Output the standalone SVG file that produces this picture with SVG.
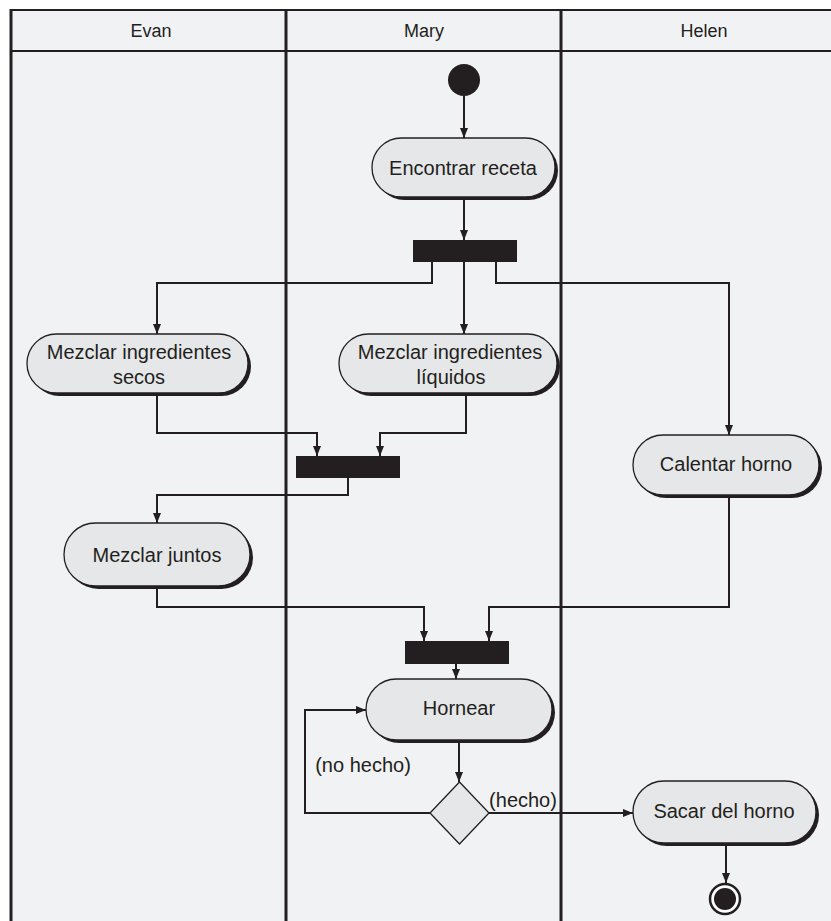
<svg xmlns="http://www.w3.org/2000/svg" width="831" height="921" viewBox="0 0 831 921">
<style>
.lane{stroke:#231f20;stroke-width:3;fill:none}
.hl{stroke:#231f20;stroke-width:2;fill:none}
.act{fill:#e6e7e9;stroke:#231f20;stroke-width:1.3}
.sh{fill:#231f20}
.bar{fill:#231f20}
.t{font-family:"Liberation Sans",Arial,sans-serif;font-size:20px;fill:#231f20;text-anchor:middle}
.h{font-family:"Liberation Sans",Arial,sans-serif;font-size:18px;fill:#231f20;text-anchor:middle}
.c{stroke:#231f20;stroke-width:2;fill:none;marker-end:url(#ah)}
.cn{stroke:#231f20;stroke-width:2;fill:none}
</style>
<defs>
<marker id="ah" viewBox="0 0 10 10" refX="10" refY="5" markerWidth="5" markerHeight="5" markerUnits="strokeWidth" orient="auto">
<path d="M0,1 L10,5 L0,9 z" fill="#231f20"/>
</marker>
</defs>
<rect x="0" y="0" width="831" height="921" fill="#ffffff"/>
<rect x="11" y="10" width="820" height="911" fill="#f1f2f4"/>
<g id="lanes">
<line class="hl" x1="10" y1="10" x2="831" y2="10"/>
<line class="hl" x1="10" y1="51" x2="831" y2="51"/>
<line class="lane" x1="11" y1="9" x2="11" y2="921"/>
<line class="lane" x1="286" y1="9" x2="286" y2="921"/>
<line class="lane" x1="561" y1="9" x2="561" y2="921"/>
<text class="h" x="151" y="37">Evan</text>
<text class="h" x="424" y="37">Mary</text>
<text class="h" x="704" y="37">Helen</text>
</g>
<g id="connectors">
<path class="c" d="M464,96 V138"/>
<path class="c" d="M464,200 V240"/>
<path class="c" d="M432,262 V283 H157 V334"/>
<path class="c" d="M464,262 V334"/>
<path class="c" d="M496,262 V283 H729 V435"/>
<path class="c" d="M157,396 V433 H317 V456"/>
<path class="c" d="M466,396 V433 H380 V456"/>
<path class="c" d="M348,478 V495 H157 V523"/>
<path class="c" d="M157,589 V607 H424 V641"/>
<path class="c" d="M729,498 V607 H489 V641"/>
<path class="c" d="M456,664 V679"/>
<path class="c" d="M459,743 V782"/>
<path class="c" d="M430,813 H305 V710 H366"/>
<path class="c" d="M489,813 H633"/>
<path class="c" d="M726,846 V883"/>
<text class="t" x="363" y="772">(no hecho)</text>
<text class="t" x="523" y="807">(hecho)</text>
</g>
<g id="start"><circle cx="464" cy="80" r="16" fill="#231f20"/></g>
<g id="encontrar">
<rect class="sh" x="375" y="141" width="183" height="59" rx="29.5"/>
<rect class="act" x="372" y="138" width="183" height="59" rx="29.5"/>
<text class="t" x="463" y="175">Encontrar receta</text>
</g>
<g id="fork1"><rect class="bar" x="413" y="240" width="104" height="22"/></g>
<g id="secos">
<rect class="sh" x="30" y="337" width="221" height="59" rx="29.5"/>
<rect class="act" x="27" y="334" width="221" height="59" rx="29.5"/>
<text class="t" x="139" y="359">Mezclar ingredientes</text>
<text class="t" x="139" y="384">secos</text>
</g>
<g id="liquidos">
<rect class="sh" x="342" y="337" width="218" height="59" rx="29.5"/>
<rect class="act" x="339" y="334" width="218" height="59" rx="29.5"/>
<text class="t" x="450" y="359">Mezclar ingredientes</text>
<text class="t" x="451" y="384">líquidos</text>
</g>
<g id="calentar">
<rect class="sh" x="636" y="438" width="186" height="60" rx="30"/>
<rect class="act" x="633" y="435" width="186" height="60" rx="30"/>
<text class="t" x="726" y="471">Calentar horno</text>
</g>
<g id="join1"><rect class="bar" x="296" y="456" width="104" height="22"/></g>
<g id="juntos">
<rect class="sh" x="67" y="526" width="186" height="63" rx="31.5"/>
<rect class="act" x="64" y="523" width="186" height="63" rx="31.5"/>
<text class="t" x="157" y="562">Mezclar juntos</text>
</g>
<g id="join2"><rect class="bar" x="405" y="641" width="104" height="23"/></g>
<g id="hornear">
<rect class="sh" x="369" y="682" width="186" height="61" rx="30.5"/>
<rect class="act" x="366" y="679" width="186" height="61" rx="30.5"/>
<text class="t" x="459" y="715">Hornear</text>
</g>
<g id="decision"><path d="M459.5,782 L489,813 L459.5,844 L430,813 Z" fill="#e6e7e9" stroke="#231f20" stroke-width="1.3"/></g>
<g id="sacar">
<rect class="sh" x="636" y="784" width="183" height="62" rx="31"/>
<rect class="act" x="633" y="781" width="183" height="62" rx="31"/>
<text class="t" x="724" y="818">Sacar del horno</text>
</g>
<g id="end">
<circle cx="725" cy="899" r="15" fill="#ffffff" stroke="#231f20" stroke-width="2.5"/>
<circle cx="725" cy="899" r="11" fill="#231f20"/>
</g>
</svg>
